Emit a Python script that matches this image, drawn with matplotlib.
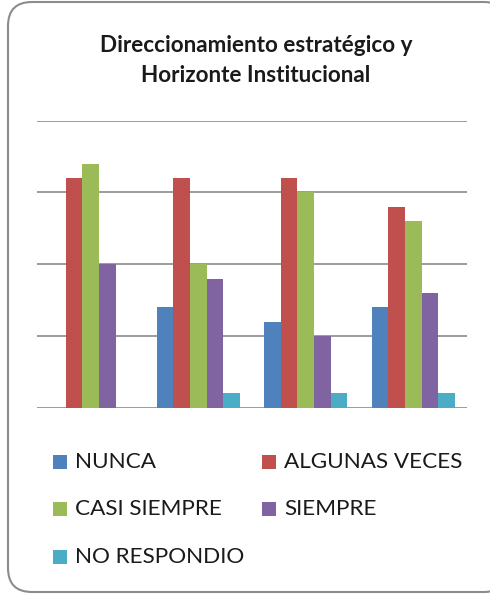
import matplotlib
matplotlib.use('Agg')
import matplotlib.pyplot as plt
import numpy as np
from matplotlib.patches import FancyBboxPatch, Rectangle

# Data (4 groups, 5 response series)
groups = ['1', '2', '3', '4']
series = ['NUNCA', 'ALGUNAS VECES', 'CASI SIEMPRE', 'SIEMPRE', 'NO RESPONDIO']
nunca = [0, 7, 6, 7]
algunas_veces = [16, 16, 16, 14]
casi_siempre = [17, 10, 15, 13]
siempre = [10, 9, 5, 8]
no_respondio = [0, 1, 1, 1]
values = [nunca, algunas_veces, casi_siempre, siempre, no_respondio]
colors = ['#4F81BD', '#C0504D', '#9BBB59', '#8064A2', '#4BACC6']

W, H = 490, 594
plt.rcParams['font.family'] = ['Lato', 'DejaVu Sans']
fig = plt.figure(figsize=(W / 100, H / 100), dpi=100)

# rounded chart frame (pixel coords), drawn behind the axes
frame = FancyBboxPatch((8, 2), 500, 590, boxstyle='round,pad=0,rounding_size=24',
                       transform=None, facecolor='white', edgecolor='#8c8c8c',
                       linewidth=1.5, zorder=-5)
fig.patches.append(frame)

ax = fig.add_axes([37 / W, (H - 407.7) / H, 430 / W, 287 / H])
ax.set_facecolor('none')

x = np.arange(len(groups))
n = len(series)
w = 1 / (n + 1.5)
for i, (vals, c) in enumerate(zip(values, colors)):
    ax.bar(x + (i - (n - 1) / 2) * w, vals, width=w, color=c, label=series[i], zorder=3)

ax.set_xlim(-0.5, len(groups) - 0.5)
ax.set_ylim(0, 20)
ax.set_yticks([0, 5, 10, 15, 20])
ax.grid(axis='y', color='#8a8a8a', linewidth=1.2, zorder=0)
ax.tick_params(left=False, bottom=False, labelleft=False, labelbottom=False)
for s in ax.spines.values():
    s.set_visible(False)

fig.text(256 / W, 1 - 46 / H, 'Direccionamiento estratégico y', ha='center', va='center',
         fontsize=16.2, fontweight='bold', color='#1a1a1a')
fig.text(256 / W, 1 - 76 / H, 'Horizonte Institucional', ha='center', va='center',
         fontsize=16.2, fontweight='bold', color='#1a1a1a')

# legend, two columns
col_x = [53, 262]
row_y = [462, 509, 557]
for i, (name, c) in enumerate(zip(series, colors)):
    cx = col_x[i % 2]
    cy = row_y[i // 2]
    fig.patches.append(Rectangle((cx, H - cy - 7), 14, 14, transform=None,
                                 facecolor=c, edgecolor='none'))
    fig.text((cx + 22) / W, 1 - cy / H, name, ha='left', va='center',
             fontsize=16.2, color='#1a1a1a')

fig.savefig('out.png', dpi=100)
